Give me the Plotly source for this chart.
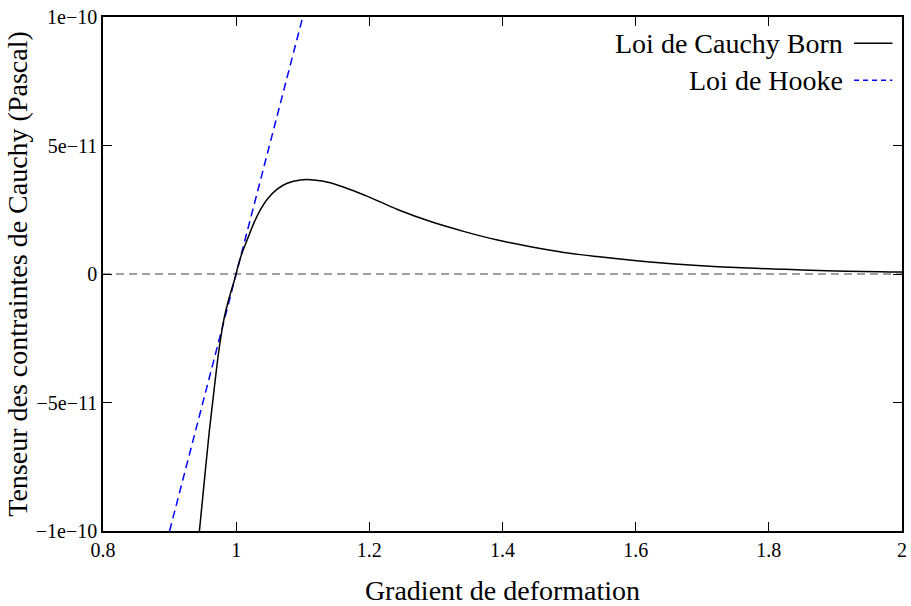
import plotly.graph_objects as go

# Cauchy-Born law
born_x = [0.9448, 0.9522, 0.9597, 0.9672, 0.9746, 0.9821, 0.9896, 0.997, 1.0069,
          1.0169, 1.0269, 1.0369, 1.0467, 1.0616, 1.0766, 1.0964, 1.1164, 1.1413,
          1.1935, 1.2433, 1.293, 1.3428, 1.3925, 1.4423, 1.492, 1.5418, 1.6015,
          1.676, 1.7507, 1.8254, 1.90, 2.0]
born_y = [-100e-12, -80.5e-12, -61.1e-12, -44.2e-12, -28.7e-12, -17.0e-12, -9.2e-12,
          -2.7e-12, 6.7e-12, 13.5e-12, 20.0e-12, 25.2e-12, 29.1e-12, 33.0e-12,
          35.3e-12, 36.6e-12, 36.6e-12, 35.5e-12, 30.6e-12, 25.0e-12, 20.3e-12,
          16.5e-12, 13.2e-12, 10.6e-12, 8.4e-12, 6.8e-12, 5.2e-12, 3.6e-12,
          2.5e-12, 1.8e-12, 1.2e-12, 0.8e-12]

# Hooke law (straight line)
hooke_x = [0.9, 1.1]
hooke_y = [-1e-10, 1e-10]

# zero reference line
zero_x = [0.8, 2.0]
zero_y = [0.0, 0.0]

x_ticks = [0.8, 1.0, 1.2, 1.4, 1.6, 1.8, 2.0]
x_ticktext = ["0.8", "1", "1.2", "1.4", "1.6", "1.8", "2"]
y_ticks = [-1e-10, -5e-11, 0, 5e-11, 1e-10]
y_ticktext = ["\u22121e\u221210", "\u22125e\u221211", "0", "5e\u221211", "1e\u221210"]

legend_names = ["Loi de Cauchy Born", "Loi de Hooke"]

FONT = "Liberation Serif"

fig = go.Figure()
fig.add_trace(go.Scatter(x=zero_x, y=zero_y, mode="lines", showlegend=False,
                         line=dict(color="#808080", width=1.5, dash="8px,5px"),
                         hoverinfo="skip"))
fig.add_trace(go.Scatter(x=hooke_x, y=hooke_y, mode="lines", name=legend_names[1],
                         showlegend=False,
                         line=dict(color="#0000ff", width=1.5, dash="8px,5px")))
fig.add_trace(go.Scatter(x=born_x, y=born_y, mode="lines", name=legend_names[0],
                         showlegend=False,
                         line=dict(color="black", width=1.5, shape="spline", smoothing=1.0)))

# legend drawn gnuplot style: text right, sample to the right
leg_y = [0.949, 0.877]
leg_styles = [dict(color="black", width=1.5), dict(color="#0000ff", width=1.5, dash="5px,4px")]
for name, yy, st in zip(legend_names, leg_y, leg_styles):
    fig.add_annotation(x=0.921, y=yy, xref="paper", yref="paper", text=name,
                       showarrow=False, xanchor="right", yanchor="middle", xshift=6,
                       font=dict(family=FONT, size=28, color="black"))
    fig.add_shape(type="line", xref="paper", yref="paper", x0=0.940, x1=0.988,
                  y0=yy, y1=yy, line=st)

fig.update_layout(
    width=911, height=606,
    margin=dict(l=103, r=4, t=17, b=75),
    paper_bgcolor="white", plot_bgcolor="white",
    font=dict(family=FONT, size=20, color="black"),
    showlegend=False,
    hovermode=False,
)
fig.update_xaxes(range=[0.8, 2.0], tickvals=x_ticks, ticktext=x_ticktext,
                 ticks="inside", ticklen=9, tickcolor="black", tickwidth=1,
                 showline=True, linecolor="black", linewidth=1.5, mirror="ticks",
                 showgrid=False, zeroline=False,
                 tickfont=dict(family=FONT, size=20),
                 title=dict(text="Gradient de deformation",
                            font=dict(family=FONT, size=28), standoff=22))
fig.update_yaxes(range=[-1.000001e-10, 1.000001e-10], tickvals=y_ticks, ticktext=y_ticktext,
                 ticks="inside", ticklen=9, tickcolor="black", tickwidth=1,
                 showline=True, linecolor="black", linewidth=1.5, mirror="ticks",
                 showgrid=False, zeroline=False,
                 tickfont=dict(family=FONT, size=20),
                 title=dict(text="Tenseur des contraintes de Cauchy (Pascal)",
                            font=dict(family=FONT, size=28), standoff=0))

fig.write_html("out.html", config={"displayModeBar": False},
               post_script="document.body.style.margin='0';document.body.style.overflow='hidden';")
